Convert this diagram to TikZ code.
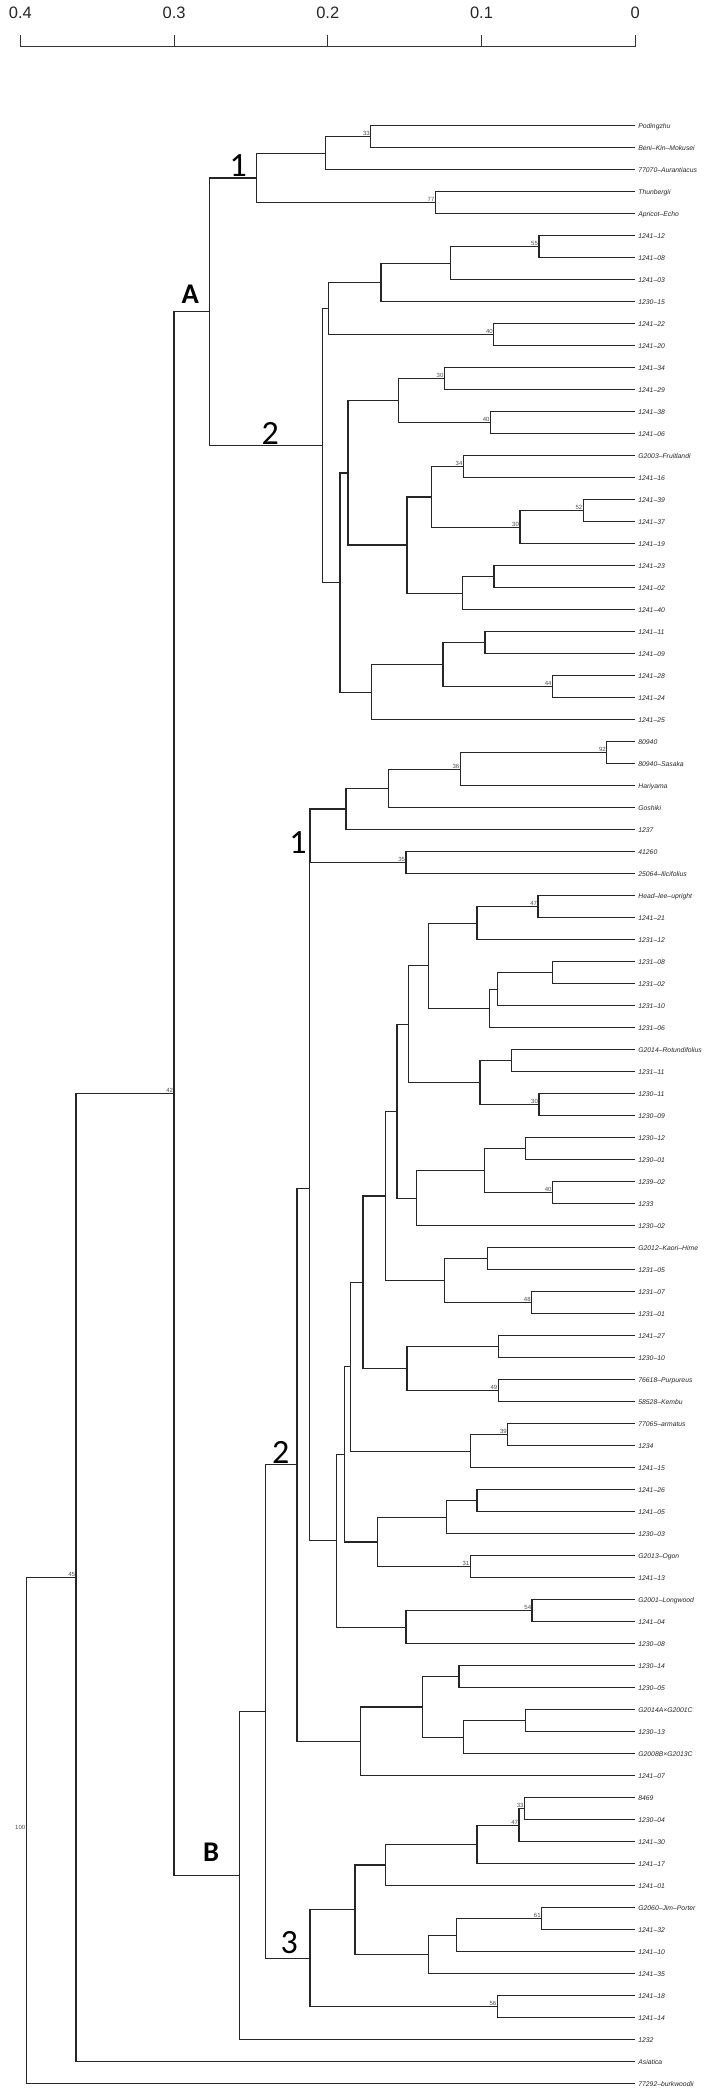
\documentclass[tikz,border=0pt]{standalone}
\usepackage{fontspec}
\setmainfont{Liberation Sans}
\newfontfamily\calib{Carlito}
\usetikzlibrary{calc}
\newcommand\dn[5]{%
  \coordinate (tmp) at ($(#3)!0.5!(#4)$);
  \coordinate (#1) at (#2,0 |- tmp);
  \draw[br] (#3) -| (#1) |- (#4);
  \if\relax\detokenize{#5}\relax\else\node[bs] at (#1) {#5};\fi
}
\begin{document}
\begin{tikzpicture}[x=0.45208pt,y=-1pt,
  br/.style={line width=1.3pt, black!85, line join=miter},
  lab/.style={anchor=base west, inner sep=0pt, font=\fontsize{6.8}{7}\selectfont\itshape, xshift=3pt, yshift=-2.45pt, text=black!85},
  bs/.style={anchor=south east, inner sep=0.8pt, font=\fontsize{6}{6}\selectfont, text=black!70},
  big/.style={inner sep=0pt, font=\calib\fontsize{34}{34}\selectfont},
  bigb/.style={inner sep=0pt, font=\calib\bfseries\fontsize{28.5}{28.5}\selectfont},
  ax/.style={line width=1.1pt, black!80},
  axl/.style={inner sep=0pt, font=\fontsize{16.5}{17}\selectfont, text=black!85}]
\useasboundingbox (0,0) rectangle (1568.3,2092);
% axis
\foreach \v [count=\k from 0] in {0.4,0.3,0.2,0.1,0}{
  \coordinate (tk\k) at ({45+340*\k},46.7);
  \coordinate (tt\k) at ({45+340*\k},35);
  \draw[ax] (tk\k) -- (tt\k);
  \node[axl] (tl\k) at ({45+340*\k},13.3) {\v};
}
\draw[ax] (tk0) -- (tk4);
% leaves
\foreach \nm [count=\i] in {Podingzhu,Beni–Kin–Mokusei,77070–Aurantiacus,Thunbergii,Apricot–Echo,
1241–12,1241–08,1241–03,1230–15,1241–22,1241–20,1241–34,1241–29,1241–38,1241–06,
G2003–Fruitlandi,1241–16,1241–39,1241–37,1241–19,1241–23,1241–02,1241–40,1241–11,1241–09,
1241–28,1241–24,1241–25,80940,80940–Sasaka,Hariyama,Goshiki,1237,41260,25064–Ilicifolius,
Head–lee–upright,1241–21,1231–12,1231–08,1231–02,1231–10,1231–06,G2014–Rotundifolius,1231–11,
1230–11,1230–09,1230–12,1230–01,1239–02,1233,1230–02,G2012–Kaori–Hime,1231–05,1231–07,1231–01,
1241–27,1230–10,76618–Purpureus,58528–Kembu,77065–armatus,1234,1241–15,1241–26,1241–05,1230–03,
G2013–Ogon,1241–13,G2001–Longwood,1241–04,1230–08,1230–14,1230–05,G2014A×G2001C,1230–13,
G2008B×G2013C,1241–07,8469,1230–04,1241–30,1241–17,1241–01,G2060–Jim–Porter,1241–32,1241–10,
1241–35,1241–18,1241–14,1232,Asiatica,77292–burkwoodii}{
  \coordinate (l\i) at (1405,{125.7+22*(\i-1)});
  \node[lab] (t\i) at (l\i) {\nm};
}
% cluster A1
\dn{a1}{820}{l1}{l2}{33}
\dn{a2}{720}{a1}{l3}{}
\dn{a3}{963}{l4}{l5}{77}
\dn{A1}{567}{a2}{a3}{}
% cluster A2
\dn{b1}{1192}{l6}{l7}{55}
\dn{b2}{996}{b1}{l8}{}
\dn{b3}{843}{b2}{l9}{}
\dn{b4}{1092}{l10}{l11}{40}
\dn{b5}{727}{b3}{b4}{}
\dn{c1}{983}{l12}{l13}{30}
\dn{c2}{1085}{l14}{l15}{40}
\dn{c3}{882}{c1}{c2}{}
\dn{c4}{1025}{l16}{l17}{34}
\dn{c5}{1290}{l18}{l19}{52}
\dn{c6}{1150}{c5}{l20}{30}
\dn{c7}{955}{c4}{c6}{}
\dn{c8}{1093}{l21}{l22}{}
\dn{c9}{1023}{c8}{l23}{}
\dn{c10}{900}{c7}{c9}{}
\dn{c11}{770}{c3}{c10}{}
\dn{d1}{1073}{l24}{l25}{}
\dn{d2}{1222}{l26}{l27}{44}
\dn{d3}{980}{d1}{d2}{}
\dn{d4}{822}{d3}{l28}{}
\dn{c12}{752}{c11}{d4}{}
\dn{A2}{713}{b5}{c12}{}
\dn{A}{463}{A1}{A2}{}
% cluster B1
\dn{e1}{1342}{l29}{l30}{92}
\dn{e2}{1018}{e1}{l31}{36}
\dn{e3}{860}{e2}{l32}{}
\dn{e4}{765}{e3}{l33}{}
\dn{e5}{898}{l34}{l35}{35}
\dn{B1}{686}{e4}{e5}{}
% cluster B2
\dn{f1}{1190}{l36}{l37}{47}
\dn{f2}{1055}{f1}{l38}{}
\dn{f3}{1222}{l39}{l40}{}
\dn{f4}{1100}{f3}{l41}{}
\dn{f5}{1082}{f4}{l42}{}
\dn{f6}{948}{f2}{f5}{}
\dn{f7}{1132}{l43}{l44}{}
\dn{f8}{1192}{l45}{l46}{30}
\dn{f9}{1062}{f7}{f8}{}
\dn{f10}{903}{f6}{f9}{}
\dn{f11}{1163}{l47}{l48}{}
\dn{f12}{1222}{l49}{l50}{40}
\dn{f13}{1072}{f11}{f12}{}
\dn{f14}{922}{f13}{l51}{}
\dn{f15}{878}{f10}{f14}{}
\dn{g1}{1078}{l52}{l53}{}
\dn{g2}{1176}{l54}{l55}{48}
\dn{g3}{983}{g1}{g2}{}
\dn{g4}{853}{f15}{g3}{}
\dn{g5}{1102}{l56}{l57}{}
\dn{g6}{1102}{l58}{l59}{49}
\dn{g7}{900}{g5}{g6}{}
\dn{g8}{803}{g4}{g7}{}
\dn{g9}{1123}{l60}{l61}{39}
\dn{g10}{1040}{g9}{l62}{}
\dn{g11}{775}{g8}{g10}{}
\dn{h1}{1055}{l63}{l64}{}
\dn{h2}{988}{h1}{l65}{}
\dn{h3}{1040}{l66}{l67}{31}
\dn{h4}{835}{h2}{h3}{}
\dn{h5}{762}{g11}{h4}{}
\dn{h6}{1177}{l68}{l69}{54}
\dn{h7}{898}{h6}{l70}{}
\dn{h8}{745}{h5}{h7}{}
\dn{B1p}{684}{B1}{h8}{}
\dn{i1}{1015}{l71}{l72}{}
\dn{i2}{1163}{l73}{l74}{}
\dn{i3}{1025}{i2}{l75}{}
\dn{i4}{935}{i1}{i3}{}
\dn{i5}{797}{i4}{l76}{}
\dn{B2}{657}{B1p}{i5}{}
% cluster B3
\dn{j1}{1160}{l77}{l78}{33}
\dn{j2}{1148}{j1}{l79}{47}
\dn{j3}{1055}{j2}{l80}{}
\dn{j4}{852}{j3}{l81}{}
\dn{j5}{1198}{l82}{l83}{61}
\dn{j6}{1010}{j5}{l84}{}
\dn{j7}{948}{j6}{l85}{}
\dn{j8}{785}{j4}{j7}{}
\dn{j9}{1100}{l86}{l87}{56}
\dn{B3}{686}{j8}{j9}{}
\dn{k1}{587}{B2}{B3}{}
\dn{B}{530}{k1}{l88}{}
\dn{AB}{385}{A}{B}{42}
\dn{k2}{168}{AB}{l89}{45}
\dn{root}{58}{k2}{l90}{100}
% group labels
\node[big]  (gA1) at (527,166) {1};
\node[bigb] (gA)  at (421,294) {A};
\node[big]  (gA2) at (598,433) {2};
\node[big]  (gB1) at (659,843) {1};
\node[big]  (gB2) at (621,1452) {2};
\node[bigb] (gB)  at (467,1852.5) {B};
\node[big]  (gB3) at (640,1942.5) {3};
\end{tikzpicture}
\end{document}
